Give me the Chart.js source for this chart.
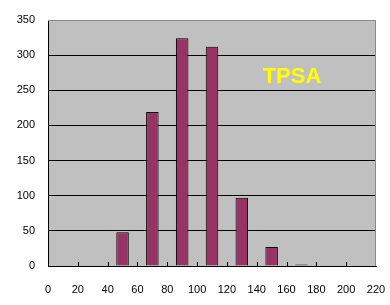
<!DOCTYPE html>
<html><head><meta charset="utf-8">
<script src="https://cdn.jsdelivr.net/npm/chart.js@4/dist/chart.umd.min.js"></script>
<style>html,body{margin:0;padding:0;background:#fff}#c{display:block}</style>
</head><body>
<canvas id="c" width="390" height="305"></canvas>
<script>
const binCenters = [50, 70, 90, 110, 130, 150, 170];
const counts = [48, 219, 324, 312, 97, 27, 2];
const xMin = 0, xMax = 220, xStep = 20;
const yMin = 0, yMax = 350, yStep = 50;
const labelText = 'TPSA';

const bgPlugin = {
  id: 'bg',
  beforeDraw(chart) {
    const {ctx, chartArea: a} = chart;
    ctx.save();
    ctx.fillStyle = '#c0c0c0';
    ctx.fillRect(a.left, a.top, a.right - a.left, a.bottom - a.top);
    ctx.restore();
  },
  afterDatasetsDraw(chart) {
    const {ctx, chartArea: a, scales} = chart;
    ctx.save();
    ctx.strokeStyle = '#888';
    ctx.lineWidth = 1;
    ctx.beginPath();
    ctx.moveTo(a.left, a.top + 0.5);
    ctx.lineTo(a.right - 0.5, a.top + 0.5);
    ctx.lineTo(a.right - 0.5, a.bottom);
    ctx.stroke();
    ctx.strokeStyle = '#000';
    for (let v = xMin + xStep; v < xMax; v += xStep) {
      const px = Math.round(scales.x.getPixelForValue(v)) + 0.5;
      ctx.beginPath();
      ctx.moveTo(px, a.bottom);
      ctx.lineTo(px, a.bottom - 4);
      ctx.stroke();
    }
    ctx.fillStyle = '#ffff00';
    ctx.font = 'bold 22px "Liberation Sans", Arial, sans-serif';
    ctx.textAlign = 'center';
    ctx.textBaseline = 'middle';
    ctx.fillText(labelText, 292, 77);
    ctx.restore();
  }
};

new Chart(document.getElementById('c'), {
  type: 'bar',
  data: {
    datasets: [{
      data: binCenters.map((x, i) => ({x: x, y: counts[i]})),
      backgroundColor: '#993366',
      borderColor: '#000',
      borderWidth: 1,
      barPercentage: 0.42,
      categoryPercentage: 1
    }]
  },
  plugins: [bgPlugin],
  options: {
    responsive: false,
    animation: false,
    layout: {padding: {left: 0, right: 14, top: 20, bottom: 0}},
    plugins: {legend: {display: false}, tooltip: {enabled: false}},
    scales: {
      x: {
        type: 'linear', min: xMin, max: xMax, offset: false,
        ticks: {stepSize: xStep, color: '#000', padding: 17, maxRotation: 0,
          font: {family: '"Liberation Sans", Arial, sans-serif', size: 11}},
        grid: {drawOnChartArea: false, drawTicks: false, offset: false},
        border: {color: '#000', width: 1},
        afterFit(s) { s.height = 39; s.paddingLeft = 0; s.paddingRight = 0; }
      },
      y: {
        min: yMin, max: yMax,
        ticks: {stepSize: yStep, color: '#000', padding: 13,
          font: {family: '"Liberation Sans", Arial, sans-serif', size: 11}},
        grid: {drawTicks: false, lineWidth: 1,
          color: c => c.tick && c.tick.value === yMax ? 'rgba(0,0,0,0)' : '#000'},
        border: {color: '#000', width: 1},
        afterFit(s) { s.width = 48; s.paddingTop = 0; s.paddingBottom = 0; }
      }
    }
  }
});
</script>
</body></html>
